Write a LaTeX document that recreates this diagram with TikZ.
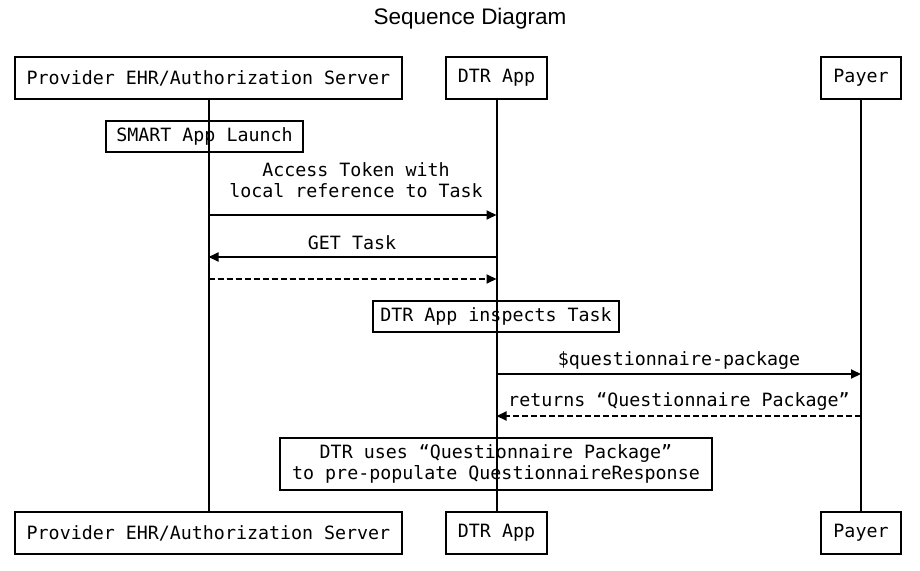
\documentclass[tikz,border=0pt]{standalone}
\usepackage{fontspec}
\setmonofont{DejaVu Sans Mono}
\newfontfamily\titlefont{Liberation Sans}
\usetikzlibrary{arrows.meta}
\tikzset{
  seqtext/.style={font=\ttfamily\fontsize{18.3}{21}\selectfont},
  actor/.style={seqtext, draw, line width=2pt, minimum height=42pt, inner xsep=12pt},
  note/.style={seqtext, draw, line width=2pt, minimum height=31pt, inner xsep=7pt, align=center},
  life/.style={line width=2pt},
  msg/.style={line width=2pt, -{Triangle[length=10pt,width=9pt]}},
  reply/.style={msg, dash pattern=on 6pt off 3pt},
  msglabel/.style={seqtext, align=center, inner sep=0pt}
}
\begin{document}
\begin{tikzpicture}[x=1pt, y=-1pt]
  \useasboundingbox (0,0) rectangle (920,570);
  \node[font=\titlefont\fontsize{22.5}{26}\selectfont] (title) at (470,19) {Sequence Diagram};

  % Participants, top and bottom
  \node[actor] (ehrTop) at (208.5,78) {Provider EHR/Authorization Server};
  \node[actor] (dtrTop) at (496.5,78) {DTR App};
  \node[actor] (payerTop) at (861,78) {Payer};
  \node[actor] (ehrBot) at (208.5,533) {Provider EHR/Authorization Server};
  \node[actor] (dtrBot) at (496.5,533) {DTR App};
  \node[actor] (payerBot) at (861,533) {Payer};

  % Notes
  \node[note, inner xsep=10pt] (launch) at (204.5,136.5) {SMART App Launch};
  \node[note] (inspect) at (496,316.5) {DTR App inspects Task};
  \node[note, minimum height=52pt, inner xsep=12pt] (prepop) at (496,464) {DTR uses “Questionnaire Package”\\ to pre-populate QuestionnaireResponse};

  % Lifelines
  \draw[life] (ehrTop) -- (ehrBot);
  \draw[life] (dtrTop) -- (dtrBot);
  \draw[life] (payerTop) -- (payerBot);

  % Messages
  \node[msglabel] (tokenLbl) at (356,180) {Access Token with\\local reference to Task};
  \draw[msg] (ehrTop |- 0,215) -- (dtrTop |- 0,215);
  \node[msglabel] (getLbl) at (352,243) {GET Task};
  \draw[msg] (dtrTop |- 0,257) -- (ehrTop |- 0,257);
  \draw[reply] (ehrTop |- 0,279) -- (dtrTop |- 0,279);
  \node[msglabel] (qpLbl) at (679,361) {\$questionnaire-package};
  \draw[msg] (dtrTop |- 0,374) -- (payerTop |- 0,374);
  \node[msglabel] (retLbl) at (679,402) {returns “Questionnaire Package”};
  \draw[reply] (payerTop |- 0,416) -- (dtrTop |- 0,416);
\end{tikzpicture}
\end{document}
